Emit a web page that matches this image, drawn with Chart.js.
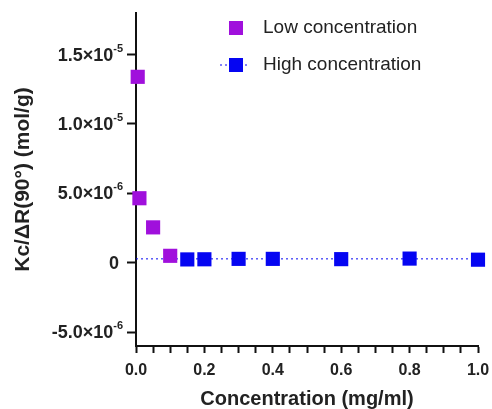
<!DOCTYPE html>
<html>
<head>
<meta charset="utf-8">
<script src="https://cdn.jsdelivr.net/npm/chart.js@4/dist/chart.umd.min.js"></script>
<style>
  html, body { margin: 0; padding: 0; background: #fff; }
  #wrap { width: 492px; height: 409px; }
</style>
</head>
<body>
<div id="wrap"><canvas id="chart" width="492" height="409"></canvas></div>
<script>
// data
const lowX  = [0.005, 0.01, 0.05, 0.1];
const lowY  = [1.34e-5, 4.65e-6, 2.55e-6, 0.5e-6];
const highX = [0.15, 0.2, 0.3, 0.4, 0.6, 0.8, 1.0];
const highY = [0.24e-6, 0.25e-6, 0.28e-6, 0.28e-6, 0.26e-6, 0.30e-6, 0.22e-6];
const fitX  = [0, 1.0];
const fitY  = [0.28e-6, 0.28e-6];
const yTicks = [-5e-6, 0, 5e-6, 1e-5, 1.5e-5];
// mantissa part and exponent part of each y label
const yTickBase = ['-5.0×10', '0', '5.0×10', '1.0×10', '1.5×10'];
const yTickExp  = ['-6', '', '-6', '-5', '-5'];
const seriesNames = ['Low concentration', 'High concentration'];

const PURPLE = '#A010DC';
const BLUE = '#0505F2';
const INK = '#222';
const FONT = '"Liberation Sans", Arial, sans-serif';

const pts = (xs, ys) => xs.map((x, i) => ({ x, y: ys[i] }));

// y tick labels with a real superscript exponent
const yLabelPlugin = {
  id: 'yLabels',
  afterDraw(chart) {
    const ctx = chart.ctx, y = chart.scales.y;
    const right = 123;
    ctx.save();
    ctx.fillStyle = INK;
    ctx.textBaseline = 'alphabetic';
    ctx.textAlign = 'left';
    yTicks.forEach((v, i) => {
      const py = y.getPixelForValue(v);
      ctx.font = 'bold 11px ' + FONT;
      const ew = yTickExp[i] ? ctx.measureText(yTickExp[i]).width : 0;
      ctx.font = 'bold 18px ' + FONT;
      const bw = ctx.measureText(yTickBase[i]).width;
      const x0 = right - ew - bw - (yTickExp[i] ? 0 : 4);
      ctx.fillText(yTickBase[i], x0, py + 6);
      if (yTickExp[i]) {
        ctx.font = 'bold 11px ' + FONT;
        ctx.fillText(yTickExp[i], x0 + bw, py - 3);
      }
    });
    ctx.restore();
  }
};

// legend drawn by hand so the high series can show dashed line + square
const legendPlugin = {
  id: 'handLegend',
  afterDraw(chart) {
    const ctx = chart.ctx;
    ctx.save();
    ctx.font = '19px ' + FONT;
    ctx.textBaseline = 'middle';
    ctx.fillStyle = PURPLE;
    ctx.fillRect(229, 21, 14, 14);
    ctx.fillStyle = INK;
    ctx.fillText(seriesNames[0], 263, 28);
    ctx.strokeStyle = BLUE;
    ctx.lineWidth = 1;
    ctx.setLineDash([2, 3]);
    ctx.beginPath(); ctx.moveTo(220, 65); ctx.lineTo(249, 65); ctx.stroke();
    ctx.setLineDash([]);
    ctx.fillStyle = BLUE;
    ctx.fillRect(229, 58, 14, 14);
    ctx.fillStyle = INK;
    ctx.fillText(seriesNames[1], 263, 65);
    ctx.restore();
  }
};

new Chart(document.getElementById('chart'), {
  type: 'scatter',
  data: {
    datasets: [
      {
        label: 'fit', data: pts(fitX, fitY), showLine: true,
        borderColor: BLUE, borderWidth: 1, borderDash: [2, 3],
        pointRadius: 0, order: 3,
      },
      {
        label: seriesNames[1], data: pts(highX, highY),
        pointStyle: 'rect', pointRadius: 10, pointHoverRadius: 10,
        backgroundColor: BLUE, borderColor: BLUE, borderWidth: 0, order: 2,
      },
      {
        label: seriesNames[0], data: pts(lowX, lowY),
        pointStyle: 'rect', pointRadius: 10, pointHoverRadius: 10,
        backgroundColor: PURPLE, borderColor: PURPLE, borderWidth: 0, order: 1,
      },
    ],
  },
  options: {
    responsive: false,
    animation: false,
    clip: false,
    layout: { padding: { top: 13, right: 14, left: 0, bottom: 0 } },
    plugins: { legend: { display: false }, tooltip: { enabled: false } },
    scales: {
      x: {
        type: 'linear', min: 0, max: 1.0,
        grid: { display: true, drawOnChartArea: false, drawTicks: true, tickLength: 7, tickWidth: 2, tickColor: '#111' },
        border: { color: '#111', width: 2 },
        ticks: {
          stepSize: 0.05, autoSkip: false, maxRotation: 0, padding: 8,
          color: INK, font: { family: FONT, size: 16, weight: 'bold' },
          callback: v => (Math.abs(v / 0.2 - Math.round(v / 0.2)) < 1e-6 ? v.toFixed(1) : ''),
        },
        title: { display: true, text: 'Concentration (mg/ml)', color: INK,
                 font: { family: FONT, size: 20, weight: 'bold' }, padding: { top: 4, bottom: -2 } },
        afterFit: s => { s.height = 63; s.paddingRight = 0; s.paddingLeft = 0; },
      },
      y: {
        type: 'linear', min: -6e-6, max: 1.8e-5,
        afterBuildTicks: s => { s.ticks = yTicks.map(v => ({ value: v })); },
        grid: { display: true, drawOnChartArea: false, tickLength: 9, tickWidth: 2, tickColor: '#111' },
        border: { color: '#111', width: 2 },
        ticks: { display: false },
        title: { display: true, text: 'Kc/ΔR(90°) (mol/g)', color: INK,
                 font: { family: FONT, size: 21, weight: 'bold' }, padding: { top: 11, bottom: 0 } },
        afterFit: s => { s.width = 136; s.paddingTop = 0; s.paddingBottom = 0; },
      },
    },
  },
  plugins: [yLabelPlugin, legendPlugin],
});
</script>
</body>
</html>
